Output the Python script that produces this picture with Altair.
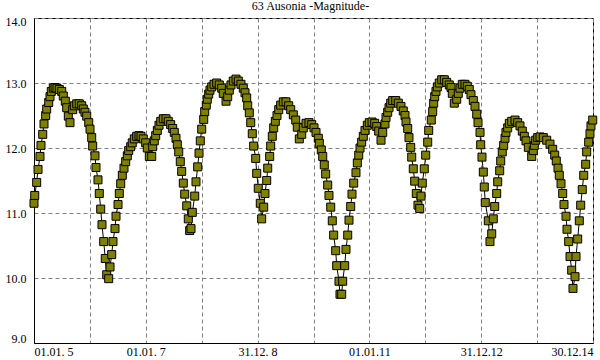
import altair as alt
import pandas as pd

# Years elapsed since 01.01.2005
t_years = [
    0.000, 0.013, 0.048, 0.072, 0.107, 0.125, 0.156, 0.179, 0.209, 0.227,
    0.263, 0.286, 0.309, 0.345, 0.376, 0.411, 0.453, 0.496, 0.524, 0.560,
    0.585, 0.614, 0.644, 0.692, 0.721, 0.764, 0.810, 0.853, 0.882, 0.912,
    0.943, 0.979, 1.002, 1.032, 1.050, 1.091, 1.109, 1.145, 1.168, 1.193,
    1.216, 1.247, 1.275, 1.301, 1.336, 1.360, 1.390, 1.413, 1.449, 1.467,
    1.503, 1.526, 1.551, 1.580, 1.610, 1.640, 1.669, 1.694, 1.730, 1.758,
    1.794, 1.837, 1.878, 1.914, 1.955, 1.998, 2.027, 2.063, 2.106, 2.123,
    2.152, 2.177, 2.206, 2.236, 2.267, 2.313, 2.361, 2.402, 2.445, 2.481,
    2.510, 2.540, 2.564, 2.589, 2.617, 2.642, 2.671, 2.696, 2.732, 2.760,
    2.785, 2.809, 2.832, 2.875, 2.898, 2.928, 2.952, 2.975, 3.000, 3.036,
    3.054, 3.082, 3.100, 3.125, 3.148, 3.179, 3.220, 3.268, 3.315, 3.358,
    3.386, 3.435, 3.465, 3.494, 3.524, 3.565, 3.614, 3.655, 3.703, 3.744,
    3.775, 3.805, 3.823, 3.852, 3.877, 3.905, 3.930, 3.966, 3.984, 4.012,
    4.048, 4.073, 4.109, 4.132, 4.163, 4.181, 4.216, 4.234, 4.263, 4.288,
    4.317, 4.347, 4.378, 4.413, 4.460, 4.508, 4.556, 4.592, 4.639, 4.682,
    4.710, 4.746, 4.789, 4.818, 4.866, 4.919, 4.968, 5.009, 5.045, 5.086,
    5.104, 5.140, 5.165, 5.193, 5.218, 5.254, 5.277, 5.308, 5.336, 5.361,
    5.397, 5.415, 5.456, 5.474, 5.504, 5.522, 5.558, 5.581, 5.612, 5.635,
    5.665, 5.689, 5.719, 5.760, 5.784, 5.809, 5.832, 5.862, 5.891, 5.921,
    5.963, 5.998, 6.047, 6.095, 6.131, 6.166, 6.208, 6.238, 6.279, 6.297,
    6.327, 6.351, 6.381, 6.417, 6.471, 6.517, 6.565, 6.606, 6.637, 6.655,
    6.685, 6.708, 6.739, 6.757, 6.785, 6.810, 6.839, 6.869, 6.900, 6.923,
    6.946, 6.982, 7.007, 7.043, 7.061, 7.107, 7.132, 7.150, 7.168, 7.191,
    7.215, 7.250, 7.293, 7.340, 7.383, 7.429, 7.460, 7.483, 7.519, 7.562,
    7.590, 7.621, 7.662, 7.710, 7.751, 7.787, 7.817, 7.859, 7.889, 7.920,
    7.943, 7.979, 7.991, 8.014, 8.038, 8.055, 8.073, 8.127, 8.157, 8.188,
    8.216, 8.241, 8.277, 8.295, 8.331, 8.349, 8.377, 8.402, 8.426, 8.443,
    8.474, 8.503, 8.546, 8.605, 8.653, 8.694, 8.735, 8.771, 8.801, 8.843,
    8.903, 8.932, 8.950, 8.975, 9.011, 9.052, 9.111, 9.172, 9.231, 9.279,
    9.315, 9.343, 9.374, 9.397, 9.428, 9.458, 9.481, 9.517, 9.535, 9.565,
    9.589, 9.619, 9.642, 9.678, 9.696, 9.726, 9.755, 9.780, 9.808, 9.834,
    9.869, 9.887, 9.923, 9.946, 9.964, 9.995,
]

magnitude = [
    11.15, 11.27, 11.47, 11.67, 11.87, 12.04, 12.21, 12.37, 12.50, 12.60,
    12.70, 12.79, 12.87, 12.92, 12.93, 12.92, 12.90, 12.87, 12.80, 12.72,
    12.62, 12.49, 12.39, 12.59, 12.65, 12.68, 12.68, 12.65, 12.60, 12.55,
    12.49, 12.39, 12.29, 12.16, 12.03, 11.88, 11.70, 11.51, 11.30, 11.06,
    10.82, 10.56, 10.30, 10.05, 9.99, 10.17, 10.36, 10.56, 10.76, 10.95,
    11.13, 11.30, 11.45, 11.58, 11.69, 11.79, 11.88, 11.96, 12.02, 12.08,
    12.14, 12.18, 12.19, 12.18, 12.14, 12.08, 12.00, 11.87, 11.87, 12.02,
    12.11, 12.19, 12.27, 12.35, 12.41, 12.45, 12.45, 12.41, 12.36, 12.30,
    12.24, 12.15, 12.05, 11.94, 11.79, 11.64, 11.46, 11.29, 11.11, 10.91,
    10.73, 10.76, 11.01, 11.26, 11.48, 11.71, 11.92, 12.11, 12.29, 12.44,
    12.56, 12.66, 12.75, 12.83, 12.89, 12.94, 12.98, 13.00, 12.97, 12.92,
    12.84, 12.72, 12.79, 12.89, 12.97, 13.03, 13.06, 13.03, 12.98, 12.92,
    12.85, 12.77, 12.65, 12.54, 12.39, 12.22, 12.03, 11.84, 11.61, 11.38,
    11.15, 10.91, 11.09, 11.30, 11.50, 11.69, 11.87, 12.03, 12.18, 12.31,
    12.41, 12.50, 12.59, 12.66, 12.71, 12.71, 12.65, 12.59, 12.51, 12.43,
    12.32, 12.14, 12.21, 12.31, 12.38, 12.39, 12.36, 12.31, 12.24, 12.15,
    12.07, 11.97, 11.87, 11.74, 11.60, 11.43, 11.27, 11.09, 10.88, 10.66,
    10.42, 10.19, 9.95, 9.75, 9.75, 9.95, 10.19, 10.44, 10.66, 10.89,
    11.10, 11.29, 11.46, 11.62, 11.77, 11.89, 12.00, 12.09, 12.18, 12.27,
    12.35, 12.39, 12.40, 12.38, 12.33, 12.26, 12.12, 12.24, 12.37, 12.47,
    12.55, 12.62, 12.69, 12.73, 12.73, 12.69, 12.64, 12.57, 12.50, 12.40,
    12.30, 12.16, 12.01, 11.86, 11.68, 11.49, 11.30, 11.12, 11.07, 11.26,
    11.46, 11.68, 11.89, 12.09, 12.27, 12.43, 12.56, 12.69, 12.79, 12.87,
    12.94, 13.00, 13.05, 13.05, 13.01, 12.97, 12.93, 12.84, 12.69, 12.75,
    12.84, 12.92, 12.98, 12.98, 12.95, 12.90, 12.82, 12.73, 12.64, 12.52,
    12.39, 12.24, 12.05, 11.86, 11.63, 11.40, 11.16, 10.88, 10.56, 10.68,
    10.91, 11.10, 11.30, 11.48, 11.65, 11.80, 11.94, 12.04, 12.15, 12.24,
    12.31, 12.38, 12.41, 12.43, 12.39, 12.34, 12.26, 12.18, 12.11, 12.01,
    11.87, 11.96, 12.04, 12.12, 12.16, 12.17, 12.16, 12.12, 12.06, 11.98,
    11.89, 11.80, 11.69, 11.58, 11.45, 11.30, 11.13, 10.95, 10.75, 10.56,
    10.33, 10.12, 9.84, 10.02, 10.33, 10.60, 10.88, 11.12, 11.36, 11.58,
    11.75, 11.94, 12.09, 12.22, 12.34, 12.43,
]

x_tick_years = [2005, 2006, 2007, 2008, 2009, 2010, 2011, 2012, 2013, 2014, 2015]
x_label_years = [2005, 2007, 2009, 2011, 2013, 2015]
x_labels = ["01.01. 5", "01.01. 7", "31.12. 8", "01.01.11", "31.12.12", "30.12.14"]
y_ticks = [9, 10, 11, 12, 13, 14]

df = pd.DataFrame({
    "year": [2005 + v for v in t_years],
    "mag": magnitude,
    "idx": list(range(len(magnitude))),
})

label_expr = " : ".join(
    f"datum.value == {y} ? '{lab}'" for y, lab in zip(x_label_years, x_labels)
) + " : ''"

FONT = "Liberation Serif"

x_enc = alt.X(
    "year:Q",
    scale=alt.Scale(domain=[2005, 2015], nice=False, zero=False),
    axis=alt.Axis(
        values=x_tick_years, labelExpr=label_expr, title=None, ticks=False,
        grid=True, gridDash=[4, 3], gridColor="#808080", gridWidth=1,
        labelFlush=True, labelOverlap=False, labelPadding=3,
        labelFont=FONT, labelFontSize=12, labelColor="black",
        domainColor="black", domainWidth=1,
    ),
)
y_enc = alt.Y(
    "mag:Q",
    scale=alt.Scale(domain=[9, 14], nice=False, zero=False),
    axis=alt.Axis(
        values=y_ticks, format=".1f", title=None, ticks=False,
        grid=True, gridDash=[4, 3], gridColor="#808080", gridWidth=1,
        labelFlush=True, labelFlushOffset=2, labelPadding=8,
        labelFont=FONT, labelFontSize=12, labelColor="black",
        domainColor="black", domainWidth=1,
    ),
)

base = alt.Chart(df)
line = base.mark_line(color="black", strokeWidth=1).encode(
    x=x_enc, y=y_enc, order="idx:Q"
)
points = base.mark_point(
    shape="square", filled=True, fill="#808000", stroke="black",
    strokeWidth=1, size=64, opacity=1,
).encode(x="year:Q", y="mag:Q")

chart = (
    alt.layer(line, points)
    .properties(
        width=559, height=325,
        title=alt.TitleParams(
            "63 Ausonia -Magnitude-", font=FONT, fontSize=12,
            fontWeight="normal", color="black", offset=2, dx=-3,
        ),
        padding={"left": 34, "top": 18, "right": 7, "bottom": 17},
        autosize="none",
        background="white",
    )
    .configure_view(stroke="black", strokeWidth=1)
)

chart.save("out.html", embed_options={"renderer": "svg", "actions": False})
